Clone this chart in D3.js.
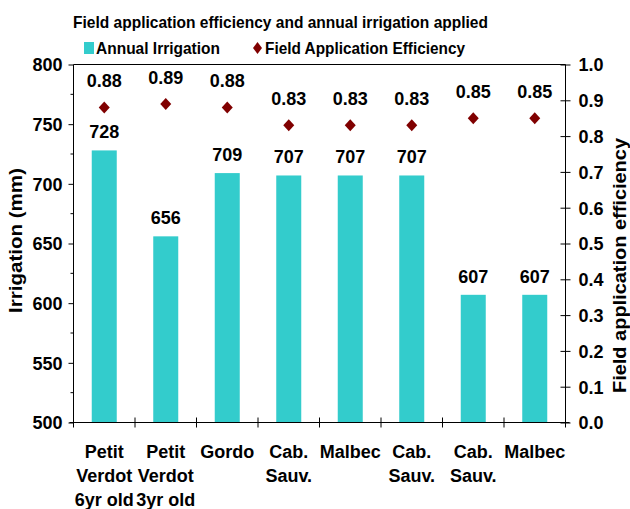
<!DOCTYPE html>
<html>
<head>
<meta charset="utf-8">
<script src="https://cdn.jsdelivr.net/npm/d3@7"></script>
<style>
html,body{margin:0;padding:0;background:#fff;}
text{font-family:"Liberation Sans",Arial,sans-serif;font-weight:bold;fill:#000;}
</style>
</head>
<body>
<svg id="chart" width="630" height="509"></svg>
<script>
const categories = [
  ["Petit","Verdot","6yr old"],
  ["Petit","Verdot","3yr old"],
  ["Gordo"],
  ["Cab.","Sauv."],
  ["Malbec"],
  ["Cab.","Sauv."],
  ["Cab.","Sauv."],
  ["Malbec"]
];
const irrigation = [728, 656, 709, 707, 707, 707, 607, 607];
const efficiency = [0.88, 0.89, 0.88, 0.83, 0.83, 0.83, 0.85, 0.85];
const leftTicks = [500, 550, 600, 650, 700, 750, 800];
const rightTicks = [0.0, 0.1, 0.2, 0.3, 0.4, 0.5, 0.6, 0.7, 0.8, 0.9, 1.0];

const svg = d3.select("#chart");
const L = 73.5, R = 565.5, T = 64.5, B = 422.5;
const idx = categories.map((d, i) => i);
const x = d3.scaleBand().domain(idx).range([L, R]).padding(0);
const y = d3.scaleLinear().domain([500, 800]).range([B, T]);
const y2 = d3.scaleLinear().domain([0, 1]).range([B, T]);
const barW = 25;
const barColor = "#33CCCC";
const diaColor = "#800000";

// title
svg.append("text").attr("x", 73).attr("y", 27.5)
  .attr("font-size", 16.5).attr("textLength", 415).attr("lengthAdjust", "spacingAndGlyphs")
  .text("Field application efficiency and annual irrigation applied");

// legend
svg.append("rect").attr("x", 84).attr("y", 42).attr("width", 10).attr("height", 12).attr("fill", barColor);
svg.append("text").attr("x", 96).attr("y", 54).attr("font-size", 16.5)
  .attr("textLength", 124).attr("lengthAdjust", "spacingAndGlyphs").text("Annual Irrigation");
const diamond = (cx, cy, hw, hh) => `M${cx},${cy-hh}L${cx+hw},${cy}L${cx},${cy+hh}L${cx-hw},${cy}Z`;
svg.append("path").attr("d", diamond(257.5, 48, 4.5, 6)).attr("fill", diaColor);
svg.append("text").attr("x", 265).attr("y", 54).attr("font-size", 16.5)
  .attr("textLength", 200).attr("lengthAdjust", "spacingAndGlyphs").text("Field Application Efficiency");

// bars
svg.append("g").selectAll("rect").data(irrigation).join("rect")
  .attr("x", (d, i) => x(i) + x.bandwidth()/2 - barW/2)
  .attr("y", d => y(d))
  .attr("width", barW)
  .attr("height", d => B - y(d))
  .attr("fill", barColor);

// bar labels
svg.append("g").selectAll("text").data(irrigation).join("text")
  .attr("x", (d, i) => x(i) + x.bandwidth()/2)
  .attr("y", d => y(d) - 12)
  .attr("text-anchor", "middle").attr("font-size", 18)
  .text(d => d);

// diamonds
svg.append("g").selectAll("path").data(efficiency).join("path")
  .attr("d", (d, i) => diamond(x(i) + x.bandwidth()/2, y2(d), 5.5, 6))
  .attr("fill", diaColor);

svg.append("g").selectAll("text").data(efficiency).join("text")
  .attr("x", (d, i) => x(i) + x.bandwidth()/2)
  .attr("y", d => y2(d) - 20)
  .attr("text-anchor", "middle").attr("font-size", 18)
  .text(d => d.toFixed(2));

// frame top
svg.append("line").attr("x1", L).attr("x2", R).attr("y1", T).attr("y2", T)
  .attr("stroke", "#000").attr("stroke-width", 1);

// left axis
const leftAxis = d3.axisLeft(y).tickValues(leftTicks).tickSize(5).tickPadding(6).tickFormat(d3.format("d"));
const gl = svg.append("g").attr("transform", `translate(${L},0)`).call(leftAxis);
gl.select(".domain").attr("d", `M0,${T}V${B}`);
gl.selectAll("text").attr("font-size", 18).attr("font-family", null).attr("dy", "0.36em");
const minor = d3.range(525, 800, 50);
gl.selectAll(".minor").data(minor).join("line").attr("class", "minor")
  .attr("x1", -3).attr("x2", 0).attr("y1", d => y(d)).attr("y2", d => y(d)).attr("stroke", "#000");

// right axis
const rightAxis = d3.axisRight(y2).tickValues(rightTicks).tickSize(5).tickPadding(8).tickFormat(d3.format(".1f"));
const gr = svg.append("g").attr("transform", `translate(${R},0)`).call(rightAxis);
gr.select(".domain").attr("d", `M0,${T}V${B}`);
gr.selectAll(".tick line").attr("x1", -5);
gr.selectAll("text").attr("font-size", 18).attr("font-family", null).attr("dy", "0.36em");

// bottom axis
const gb = svg.append("g");
gb.append("line").attr("x1", L - 4).attr("x2", R + 4).attr("y1", B).attr("y2", B).attr("stroke", "#000");
const bounds = idx.map(i => x(i)).concat([R]);
gb.selectAll(".bt").data(bounds).join("line").attr("class", "bt")
  .attr("x1", d => d).attr("x2", d => d).attr("y1", B - 5).attr("y2", B + 5).attr("stroke", "#000");

// category labels
const cat = svg.append("g").selectAll("text").data(categories).join("text")
  .attr("text-anchor", "middle").attr("font-size", 18);
cat.each(function(d, i) {
  const t = d3.select(this);
  d.forEach((line, j) => {
    t.append("tspan").attr("x", x(i) + x.bandwidth()/2).attr("y", 458 + j*24).text(line);
  });
});

// axis titles
svg.append("text").attr("transform", "translate(22,240.5) rotate(-90)")
  .attr("text-anchor", "middle").attr("font-size", 18)
  .attr("textLength", 145).attr("lengthAdjust", "spacingAndGlyphs").text("Irrigation (mm)");
svg.append("text").attr("transform", "translate(625.5,265.5) rotate(-90)")
  .attr("text-anchor", "middle").attr("font-size", 18)
  .attr("textLength", 255).attr("lengthAdjust", "spacingAndGlyphs").text("Field application efficiency");
</script>
</body>
</html>
